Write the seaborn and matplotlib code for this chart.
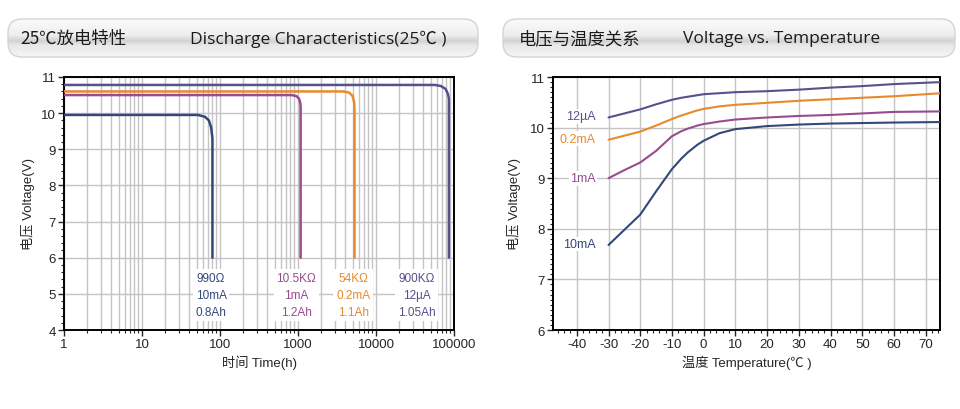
import numpy as np
import pandas as pd
import matplotlib
matplotlib.use("Agg")
import matplotlib.pyplot as plt
import seaborn as sns
from matplotlib.patches import FancyBboxPatch
from matplotlib.colors import LinearSegmentedColormap
from matplotlib.ticker import MultipleLocator, LogLocator, NullFormatter

sns.set_theme(style="white")
plt.rcParams["font.family"] = ["Liberation Sans", "Noto Sans CJK SC", "DejaVu Sans"]
plt.rcParams["axes.unicode_minus"] = False

# ---- dados: descarga a 25 C (tempo em h, tensao em V)
t_10mA = [1, 52, 64, 72, 77, 80, 80]
v_10mA = [9.95, 9.95, 9.9, 9.8, 9.6, 9.3, 6.0]
t_1mA = [1, 830, 960, 1030, 1070, 1080, 1080]
v_1mA = [10.5, 10.5, 10.47, 10.4, 10.28, 10.2, 6.0]
t_02mA = [1, 3800, 4500, 5000, 5250, 5300, 5300]
v_02mA = [10.6, 10.6, 10.57, 10.48, 10.3, 10.11, 6.0]
t_12uA = [1, 57000, 68000, 78000, 84000, 86000, 86000]
v_12uA = [10.78, 10.78, 10.75, 10.67, 10.52, 10.39, 6.0]

# ---- dados: tensao x temperatura
temp = [-30, -25, -20, -15, -10, -7, -5, -2, 0, 5, 10, 20, 30, 40, 50, 60, 75]
vt_12uA = [10.2, 10.28, 10.36, 10.46, 10.55, 10.59, 10.61, 10.64, 10.66, 10.68, 10.7, 10.72, 10.75, 10.79, 10.82, 10.86, 10.9]
vt_02mA = [9.76, 9.84, 9.92, 10.04, 10.17, 10.24, 10.28, 10.34, 10.37, 10.42, 10.45, 10.49, 10.53, 10.56, 10.59, 10.62, 10.68]
vt_1mA = [9.0, 9.16, 9.31, 9.54, 9.83, 9.93, 9.98, 10.04, 10.07, 10.12, 10.16, 10.2, 10.23, 10.25, 10.28, 10.31, 10.32]
vt_10mA = [7.68, 7.98, 8.28, 8.74, 9.18, 9.39, 9.51, 9.66, 9.74, 9.89, 9.97, 10.03, 10.06, 10.08, 10.09, 10.1, 10.11]

c_navy = "#34477a"
c_purple = "#9a4a8e"
c_orange = "#e8892c"
c_slate = "#55518c"
c_grid = "#c4c4c4"

# rotulos dos blocos de descarga
bloco_texto = [["990Ω", "10mA", "0.8Ah"], ["10.5KΩ", "1mA", "1.2Ah"],
               ["54KΩ", "0.2mA", "1.1Ah"], ["900KΩ", "12µA", "1.05Ah"]]
bloco_x = [77, 950, 5100, 33000]
bloco_cor = [c_navy, c_purple, c_orange, c_slate]

fig = plt.figure(figsize=(9.6, 4.1), dpi=100)

# ---- faixas de titulo (fundo)
bg = fig.add_axes([0, 0, 1, 1], zorder=0)
bg.set_xlim(0, 960)
bg.set_ylim(410, 0)
bg.axis("off")
grad_cmap = LinearSegmentedColormap.from_list(
    "hdr", [(0, "#fbfbfb"), (0.42, "#eeeeee"), (0.58, "#d2d2d2"), (0.7, "#e8e8e8"), (1, "#f6f6f6")])
grad = np.linspace(0, 1, 100).reshape(-1, 1)
for x0, x1 in [(8, 478), (503, 955)]:
    box = FancyBboxPatch((x0, 20), x1 - x0, 38, boxstyle="round,pad=0,rounding_size=14",
                         facecolor="none", edgecolor="#d4d4d4", lw=1)
    bg.add_patch(box)
    im = bg.imshow(grad, cmap=grad_cmap, extent=(x0, x1, 58, 20), aspect="auto")
    im.set_clip_path(box)

hdr_font = ["Open Sans", "Noto Sans CJK SC", "DejaVu Sans"]
bg.text(20, 39, "25℃放电特性", fontsize=12.5, va="center", color="#1a1a1a", family=["Noto Sans CJK SC"])
bg.text(190, 39, "Discharge Characteristics(25℃ )", fontsize=12.5, va="center", color="#1a1a1a", family=hdr_font)
bg.text(519, 39, "电压与温度关系", fontsize=12.5, va="center", color="#1a1a1a", family=["Noto Sans CJK SC"])
bg.text(683, 39, "Voltage vs. Temperature", fontsize=12.5, va="center", color="#1a1a1a", family=hdr_font)

# ---- grafico da esquerda: descarga
ax1 = fig.add_axes([64 / 960, 1 - 331 / 410, 390 / 960, 253 / 410], zorder=1)
ax1.set_xscale("log")
series1 = [(t_10mA, v_10mA, c_navy), (t_1mA, v_1mA, c_purple),
           (t_02mA, v_02mA, c_orange), (t_12uA, v_12uA, c_slate)]
for tt, vv, cc in series1:
    df = pd.DataFrame({"t": tt, "v": vv})
    sns.lineplot(data=df, x="t", y="v", sort=False, estimator=None, color=cc, lw=1.8, ax=ax1, zorder=3)
ax1.set_xlim(1, 100000)
ax1.set_ylim(4, 11)
ax1.xaxis.set_major_locator(LogLocator(base=10, numticks=10))
ax1.xaxis.set_minor_locator(LogLocator(base=10, subs=np.arange(2, 10), numticks=20))
ax1.xaxis.set_minor_formatter(NullFormatter())
ax1.set_xticks([1, 10, 100, 1000, 10000, 100000])
ax1.set_xticklabels(["1", "10", "100", "1000", "10000", "100000"])
ax1.yaxis.set_major_locator(MultipleLocator(1))
ax1.yaxis.set_minor_locator(MultipleLocator(0.2))
ax1.grid(True, which="major", color=c_grid, lw=1)
ax1.grid(True, which="minor", axis="x", color=c_grid, lw=1)
ax1.set_xlabel("时间 Time(h)", fontsize=9.5, labelpad=3)
ax1.set_ylabel("电压 Voltage(V)", fontsize=9.5, labelpad=4)
for i in range(4):
    ax1.text(bloco_x[i], 4.97, "\n".join(bloco_texto[i]), ha="center", va="center",
             fontsize=8.5, color=bloco_cor[i], linespacing=1.55, zorder=4,
             bbox=dict(facecolor="white", edgecolor="none", pad=2))

# ---- grafico da direita: tensao x temperatura
ax2 = fig.add_axes([553 / 960, 1 - 331 / 410, 387 / 960, 253 / 410], zorder=1)
series2 = [(vt_12uA, c_slate), (vt_02mA, c_orange), (vt_1mA, c_purple), (vt_10mA, c_navy)]
for vv, cc in series2:
    sns.lineplot(x=temp, y=vv, estimator=None, color=cc, lw=1.5, ax=ax2, zorder=3)
ax2.set_xlim(-47.5, 74.5)
ax2.set_ylim(6, 11)
ax2.xaxis.set_major_locator(MultipleLocator(10))
ax2.xaxis.set_minor_locator(MultipleLocator(2))
ax2.yaxis.set_major_locator(MultipleLocator(1))
ax2.yaxis.set_minor_locator(MultipleLocator(0.1))
ax2.grid(True, which="major", color=c_grid, lw=1)
ax2.set_xlabel("温度 Temperature(℃ )", fontsize=9.5, labelpad=3)
ax2.set_ylabel("电压 Voltage(V)", fontsize=9.5, labelpad=6)

rotulo_temp = ["12µA", "0.2mA", "1mA", "10mA"]
rotulo_y = [10.22, 9.78, 9.0, 7.7]
rotulo_cor = [c_slate, c_orange, c_purple, c_navy]
for lab, yy, cc in zip(rotulo_temp, rotulo_y, rotulo_cor):
    ax2.text(-34, yy, lab, ha="right", va="center", fontsize=9, color=cc, zorder=4,
             bbox=dict(facecolor="white", edgecolor="none", pad=1))

for ax in (ax1, ax2):
    for s in ax.spines.values():
        s.set_color("black")
        s.set_linewidth(1.4)
    ax.tick_params(which="major", direction="out", length=4, width=1, labelsize=9.5,
                   left=True, bottom=True, pad=2)
    ax.tick_params(which="minor", direction="out", length=2, width=0.8, left=True, bottom=True)

fig.savefig("out.png", dpi=100, facecolor="white")
